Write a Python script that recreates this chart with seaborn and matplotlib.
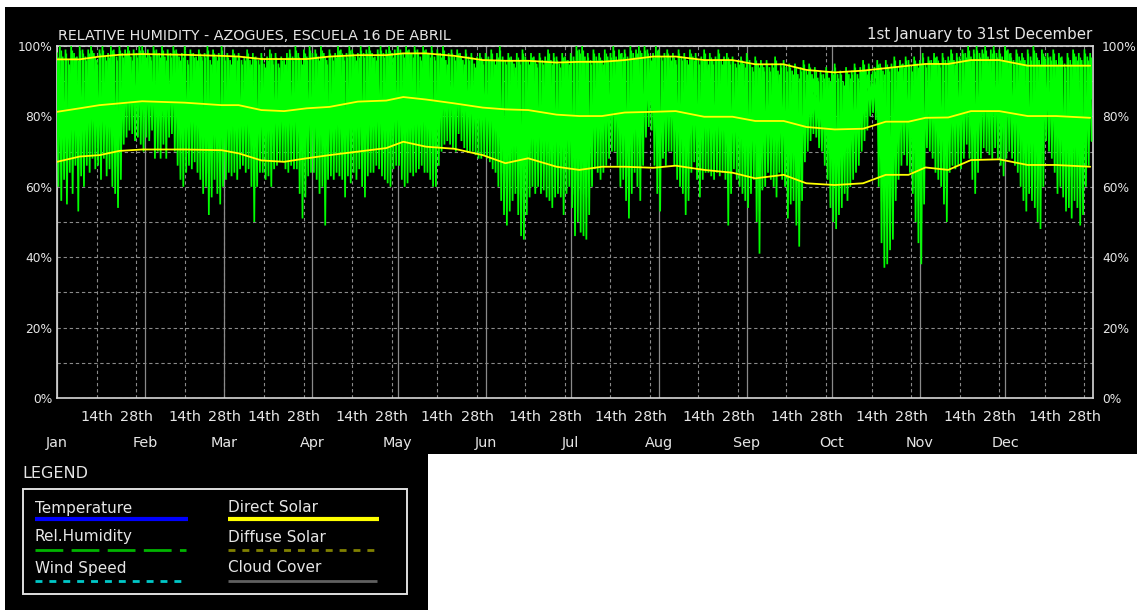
import numpy as np
import pandas as pd
import seaborn as sns
import matplotlib
matplotlib.use("Agg")
import matplotlib.pyplot as plt
from matplotlib.lines import Line2D
from matplotlib.patches import Rectangle

# ---------------- data ----------------
# daily minimum relative humidity (%)
rh_min = [
    60, 56, 62, 55, 64, 58, 66, 53, 63, 60,
    66, 64, 68, 65, 66, 62, 68, 63, 65, 60,
    58, 54, 62, 72, 74, 76, 75, 73, 74, 72,
    70, 74, 73, 76, 68, 70, 68, 72, 68, 74,
    75, 70, 66, 62, 60, 64, 66, 65, 67, 64,
    62, 58, 60, 52, 57, 62, 58, 55, 60, 62,
    64, 63, 64, 62, 65, 66, 64, 65, 60, 50,
    60, 64, 64, 62, 63, 60, 65, 66, 67, 67,
    65, 64, 66, 65, 65, 58, 51, 57, 63, 64,
    64, 62, 58, 60, 49, 62, 63, 62, 64, 63,
    62, 57, 63, 61, 64, 62, 65, 60, 57, 63,
    64, 64, 66, 65, 63, 62, 61, 60, 65, 66,
    66, 62, 60, 61, 64, 63, 64, 65, 66, 64,
    64, 62, 60, 60, 66, 70, 72, 73, 72, 71,
    70, 75, 73, 71, 70, 70, 70, 69, 68, 68,
    69, 68, 67, 65, 64, 60, 56, 52, 49, 53,
    56, 58, 52, 46, 45, 52, 57, 60, 58, 60,
    58, 59, 57, 56, 54, 57, 58, 57, 52, 58,
    60, 54, 46, 50, 47, 46, 45, 52, 60, 65,
    64, 62, 64, 66, 68, 70, 70, 66, 60, 62,
    56, 51, 58, 64, 60, 56, 66, 74, 77, 76,
    66, 58, 53, 68, 66, 70, 70, 66, 62, 60,
    58, 52, 56, 64, 67, 62, 57, 62, 64, 64,
    63, 62, 64, 63, 64, 62, 49, 58, 65, 62,
    60, 58, 56, 54, 58, 62, 50, 41, 59, 60,
    64, 62, 60, 57, 64, 62, 60, 51, 55, 56,
    49, 43, 56, 67, 70, 73, 75, 74, 71, 70,
    66, 62, 54, 50, 48, 52, 54, 58, 56, 60,
    62, 64, 66, 70, 73, 76, 80, 81, 79, 60,
    44, 37, 38, 42, 45, 56, 62, 66, 69, 66,
    64, 58, 50, 44, 38, 55, 71, 70, 68, 64,
    62, 60, 55, 50, 64, 66, 65, 66, 65, 68,
    72, 68, 62, 58, 64, 68, 71, 70, 69, 68,
    71, 68, 66, 63, 68, 70, 68, 66, 64, 60,
    56, 53, 58, 56, 54, 50, 48, 60, 73, 70,
    68, 64, 58, 60, 57, 53, 54, 51, 56, 54,
    49, 52, 60, 66, 73,
]
# daily maximum relative humidity (%)
rh_max = [
    98, 100, 97, 99, 96, 100, 98, 97, 100, 99,
    97, 99, 100, 98, 96, 99, 100, 97, 98, 100,
    99, 97, 100, 98, 99, 100, 97, 99, 98, 100,
    100, 98, 99, 97, 100, 99, 98, 100, 97, 99,
    98, 100, 99, 97, 98, 100, 96, 99, 98, 97,
    99, 97, 98, 100, 96, 99, 97, 98, 100, 97,
    98, 96, 99, 97, 98, 96, 97, 99, 96, 98,
    97, 96, 98, 95, 97, 99, 96, 98, 95, 97,
    96, 98, 99, 97, 100, 98, 96, 99, 97, 100,
    98, 99, 97, 100, 98, 96, 99, 97, 98, 100,
    99, 97, 98, 100, 99, 97, 98, 100, 98, 99,
    100, 98, 97, 99, 100, 98, 99, 100, 98, 99,
    100, 99, 98, 100, 99, 98, 100, 99, 97, 100,
    99, 98, 100, 97, 99, 98, 100, 96, 98, 99,
    97, 99, 98, 96, 99, 97, 98, 95, 97, 98,
    96, 98, 97, 99, 96, 98, 100, 97, 96, 98,
    97, 95, 98, 96, 99, 97, 96, 98, 97, 95,
    98, 96, 97, 99, 96, 98, 97, 95, 98, 97,
    96, 98, 97, 100, 99, 100, 97, 98, 96, 99,
    97, 98, 96, 99, 97, 98, 100, 97, 99, 98,
    99, 97, 100, 98, 99, 100, 98, 100, 99, 97,
    98, 100, 99, 97, 98, 99, 97, 98, 96, 99,
    97, 98, 96, 99, 97, 98, 96, 97, 99, 96,
    98, 96, 97, 99, 96, 97, 98, 96, 97, 95,
    96, 97, 95, 98, 96, 94, 97, 95, 96, 94,
    96, 94, 95, 97, 93, 95, 96, 94, 95, 93,
    95, 92, 94, 96, 93, 95, 92, 94, 91, 93,
    92, 94, 91, 93, 95, 92, 93, 90, 94, 92,
    93, 95, 92, 94, 96, 93, 95, 92, 94, 96,
    95, 93, 96, 94, 95, 97, 94, 96, 95, 97,
    96, 94, 97, 95, 96, 98, 95, 97, 96, 98,
    97, 95, 98, 96, 97, 99, 96, 98, 97, 99,
    98, 100, 97, 99, 100, 98, 99, 100, 97, 99,
    100, 98, 99, 97, 100, 99, 98, 96, 99, 97,
    98, 96, 99, 97, 100, 98, 96, 99, 97, 98,
    97, 99, 96, 98, 97, 95, 98, 96, 99, 97,
    98, 96, 99, 97, 98,
]

# smoothed envelopes (yellow lines): day of year and values (%)
env_days = [0, 8, 15, 22, 30, 45, 58, 64, 72, 80, 88, 96, 106, 116, 122, 130,
            140, 150, 158, 166, 176, 184, 192, 200, 210, 218, 228, 238, 246,
            256, 264, 274, 284, 292, 300, 306, 314, 322, 332, 342, 352, 364]
env_upper = [96.2, 96.2, 97.0, 97.5, 97.7, 97.5, 97.2, 97.0, 96.3, 96.3, 96.3,
             97.0, 97.4, 97.4, 97.9, 97.9, 97.2, 96.0, 95.8, 95.8, 95.3, 95.5,
             95.5, 96.0, 97.0, 97.0, 96.0, 96.0, 94.8, 94.8, 93.2, 92.5, 93.0,
             93.7, 94.4, 94.9, 94.9, 96.0, 96.0, 94.4, 94.4, 94.4]
env_mean = [81.3, 82.3, 83.2, 83.7, 84.3, 83.9, 83.2, 83.2, 81.8, 81.5, 82.3,
            82.7, 84.2, 84.5, 85.5, 84.8, 83.7, 82.5, 82.0, 81.8, 80.5, 80.1,
            80.1, 81.1, 81.3, 81.5, 79.9, 79.9, 78.7, 78.7, 77.0, 76.3, 76.5,
            78.5, 78.5, 79.6, 79.7, 81.5, 81.5, 80.1, 80.1, 79.6]
env_lower = [67.1, 68.6, 69.0, 70.2, 70.6, 70.6, 70.4, 69.5, 67.5, 67.1, 68.1,
             69.0, 70.0, 71.0, 72.8, 71.4, 70.8, 69.0, 66.7, 68.1, 65.7, 64.8,
             65.7, 65.7, 65.4, 66.0, 64.8, 64.0, 62.4, 63.4, 61.0, 60.5, 61.0,
             63.4, 63.4, 65.5, 64.8, 67.6, 67.8, 66.2, 66.2, 65.7]

month_names = ["Jan", "Feb", "Mar", "Apr", "May", "Jun",
               "Jul", "Aug", "Sep", "Oct", "Nov", "Dec"]
month_start = [0, 31, 59, 90, 120, 151, 181, 212, 243, 273, 304, 334]
day_labels = ["14th", "28th"]
ytick_vals = [0, 20, 40, 60, 80, 100]
ytick_labels = ["0%", "20%", "40%", "60%", "80%", "100%"]

title_left = "RELATIVE HUMIDITY - AZOGUES, ESCUELA 16 DE ABRIL"
title_right = "1st January to 31st December"

legend_labels = ["Temperature", "Rel.Humidity", "Wind Speed",
                 "Direct Solar", "Diffuse Solar", "Cloud Cover"]
legend_colors = ["#0000FF", "#00B400", "#00C8C8", "#FFFF00", "#808000", "#606060"]
legend_dash = [None, (10, 3), (2.5, 2.5), None, (2.5, 2.5), None]
legend_lw = [3, 2, 2, 3, 2, 2]

# ---------------- style ----------------
sns.set_theme(style="dark")
plt.rcParams['font.family'] = ['DejaVu Sans']
TXT = "#E6E6E6"
GRID = "#8A8A8A"

W, H = 1137, 616
fig = plt.figure(figsize=(W / 100, H / 100), dpi=100, facecolor="black")


def fx(x):
    return x / W


def fy(y):
    return 1 - y / H


# white border regions of the screenshot
for (x0, y0, x1, y1) in [(428, 454, W, H), (0, 0, 5, H), (0, 0, W, 7), (0, 610, 428, H)]:
    fig.patches.append(Rectangle((fx(x0), fy(y1)), (x1 - x0) / W, (y1 - y0) / H,
                                 transform=fig.transFigure, facecolor="white",
                                 edgecolor="none", zorder=0))

ax = fig.add_axes([fx(57), fy(398), 1036 / W, 352 / H])
ax.set_facecolor("black")

# green humidity trace: each day drawn from its maximum down to its minimum and back
days = np.arange(len(rh_min))
zig_x = np.column_stack([days, days + 0.5]).ravel()
zig_y = np.column_stack([rh_max, rh_min]).ravel()
ax.plot(zig_x, zig_y, color="#00FF00", lw=1.25, zorder=3, solid_joinstyle="miter")
ax.vlines(days + 0.25, np.array(rh_min) + 12, np.array(rh_max) - 1,
          color="#00FF00", lw=0.9, zorder=3)

env = pd.DataFrame({"day": env_days, "upper": env_upper,
                    "mean": env_mean, "lower": env_lower})
for col in ["upper", "mean", "lower"]:
    sns.lineplot(data=env, x="day", y=col, ax=ax, color="#FFFF00", lw=1.3, zorder=4)

ax.set_xlim(0, 365)
ax.set_ylim(0, 100)
ax.set_xlabel("")
ax.set_ylabel("")

# x ticks: 14th / 28th (major), month names (minor)
ax.xaxis.remove_overlapping_locs = False
maj_pos, maj_lab = [], []
for s in month_start:
    for k, lab in zip([14, 28], day_labels):
        maj_pos.append(s + k)
        maj_lab.append(lab)
ax.set_xticks(maj_pos, labels=maj_lab)
ax.set_xticks(month_start, labels=month_names, minor=True)
ax.tick_params(axis="x", which="major", length=0, pad=8.5, labelsize=10.4, labelcolor=TXT)
ax.tick_params(axis="x", which="minor", length=0, pad=27.5, labelsize=10.4, labelcolor=TXT)

ax.set_yticks(ytick_vals, labels=ytick_labels)
ax.set_yticks([10, 30, 50, 70, 90], minor=True)
ax.tick_params(axis="y", which="both", length=0, pad=3.5, labelsize=8.8, labelcolor=TXT)

sec = ax.secondary_yaxis("right")
sec.set_yticks(ytick_vals, labels=ytick_labels)
sec.tick_params(axis="y", length=0, pad=6.5, labelsize=8.8, labelcolor=TXT)
sec.spines["right"].set_visible(False)

ax.set_axisbelow(True)
ax.grid(False)
ax.grid(which="major", axis="x", color=GRID, ls=(0, (3, 2.5)), lw=0.8)
ax.grid(which="minor", axis="x", color=GRID, ls="-", lw=0.9)
ax.grid(which="both", axis="y", color=GRID, ls=(0, (3, 2.5)), lw=0.8)

for sp in ax.spines.values():
    sp.set_visible(True)
    sp.set_color("#D8D8D8")
    sp.set_linewidth(1.2)

# titles
fig.text(fx(58), fy(36), title_left, color=TXT, fontsize=10.3, ha="left", va="center")
fig.text(fx(1092), fy(35), title_right, color=TXT, fontsize=10.8, ha="right", va="center")

# legend block
fig.text(fx(22), fy(473), "LEGEND", color=TXT, fontsize=11.5, ha="left", va="center")
fig.patches.append(Rectangle((fx(23), fy(594)), (407 - 23) / W, (594 - 489) / H,
                             transform=fig.transFigure, facecolor="none",
                             edgecolor="#E0E0E0", lw=1.4, zorder=2))
col_x = [35, 35, 35, 228, 228, 228]
text_y = [508, 537, 568, 508, 537, 568]
line_y = [519, 550, 580.5, 519, 550, 580.5]
line_len = [153, 151, 147, 151, 146, 149]
for lab, c, dsh, lw, x0, ty, ly, ln in zip(legend_labels, legend_colors, legend_dash,
                                           legend_lw, col_x, text_y, line_y, line_len):
    fig.text(fx(x0), fy(ty), lab, color=TXT, fontsize=11, ha="left", va="center")
    ln2d = Line2D([fx(x0), fx(x0 + ln)], [fy(ly), fy(ly)], transform=fig.transFigure,
                  color=c, lw=lw, solid_capstyle="butt", dash_capstyle="butt")
    if dsh is not None:
        ln2d.set_dashes(dsh)
    fig.add_artist(ln2d)

fig.savefig("out.png", dpi=100, facecolor=fig.get_facecolor())
